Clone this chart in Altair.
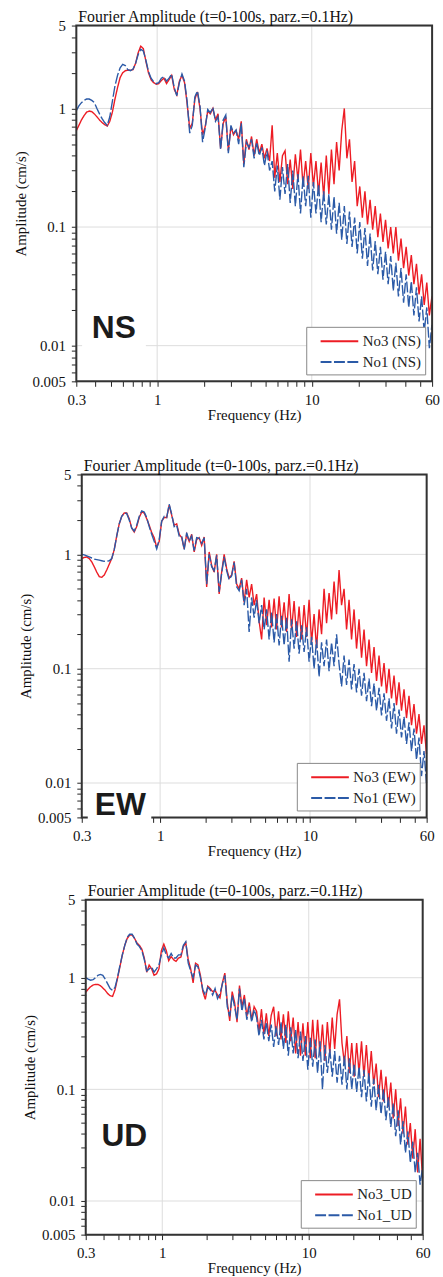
import altair as alt
import pandas as pd

# FFT frequency sampling axis (Hz), log-spaced from 0.3 to 60 Hz (1/60 decade)
FREQ = [round(0.3 * 10 ** (i / 60), 5) for i in range(139)]

# ---- NS component (amplitudes, cm/s) ----
NS_NO3 = [
    0.65, 0.72, 0.80, 0.87, 0.93, 0.95, 0.94, 0.90, 0.85, 0.80,
    0.76, 0.73, 0.71, 0.78, 0.93, 1.2, 1.5, 1.82, 2.0, 2.08,
    2.1, 2.1, 2.12, 2.4, 2.95, 3.35, 3.2, 2.5, 2.0, 1.75,
    1.65, 1.6, 1.62, 1.72, 1.8, 1.62, 1.75, 1.9, 1.45, 1.3,
    1.7, 1.9, 1.65, 1.1, 0.68, 0.75, 1.2, 1.38, 1.0, 0.6,
    0.7, 0.95, 0.9, 1.0, 0.8, 0.9, 0.46, 0.75, 0.85, 0.44,
    0.7, 0.6, 0.65, 0.55, 0.78, 0.34, 0.55, 0.45, 0.58, 0.4,
    0.55, 0.42, 0.5, 0.38, 0.46, 0.36, 0.72, 0.26, 0.42, 0.24,
    0.40, 0.44, 0.23, 0.37, 0.21, 0.41, 0.25, 0.45, 0.22, 0.36,
    0.21, 0.42, 0.22, 0.36, 0.19, 0.35, 0.18, 0.40, 0.19, 0.45,
    0.23, 0.52, 0.30, 0.65, 1.0, 0.38, 0.55, 0.24, 0.36, 0.15,
    0.22, 0.12, 0.20, 0.105, 0.17, 0.095, 0.15, 0.082, 0.13, 0.075,
    0.115, 0.066, 0.10, 0.06, 0.1, 0.052, 0.08, 0.045, 0.068, 0.039,
    0.058, 0.033, 0.049, 0.027, 0.04, 0.022, 0.034, 0.018, 0.026,
]
NS_NO1 = [
    0.96, 1.05, 1.12, 1.17, 1.2, 1.2, 1.17, 1.12, 1.0, 0.9,
    0.82, 0.76, 0.72, 0.85, 1.15, 1.55, 1.9, 2.2, 2.35, 2.3,
    2.12, 2.08, 2.15, 2.4, 2.85, 3.15, 3.05, 2.55, 2.05, 1.8,
    1.68, 1.62, 1.65, 1.8, 1.85, 1.7, 1.8, 1.95, 1.5, 1.28,
    1.65, 1.95, 1.7, 1.15, 0.62, 0.72, 1.25, 1.4, 1.05, 0.52,
    0.68, 0.98, 0.92, 1.02, 0.78, 0.85, 0.45, 0.8, 0.88, 0.42,
    0.72, 0.62, 0.66, 0.5, 0.75, 0.32, 0.52, 0.47, 0.55, 0.38,
    0.52, 0.4, 0.47, 0.33, 0.44, 0.3, 0.36, 0.2, 0.33, 0.17,
    0.32, 0.19, 0.34, 0.16, 0.3, 0.15, 0.28, 0.13, 0.27, 0.15,
    0.27, 0.12, 0.24, 0.13, 0.23, 0.11, 0.2, 0.105, 0.19, 0.095,
    0.18, 0.088, 0.16, 0.078, 0.15, 0.072, 0.135, 0.068, 0.12, 0.06,
    0.11, 0.054, 0.098, 0.047, 0.088, 0.043, 0.076, 0.04, 0.068, 0.036,
    0.062, 0.033, 0.057, 0.029, 0.05, 0.026, 0.045, 0.023, 0.04, 0.021,
    0.035, 0.018, 0.031, 0.016, 0.026, 0.013, 0.021, 0.0095, 0.015,
]

# ---- EW component ----
EW_NO3 = [
    0.92, 0.94, 0.95, 0.92, 0.86, 0.78, 0.70, 0.64, 0.63, 0.66,
    0.73, 0.82, 0.92, 1.1, 1.45, 1.85, 2.15, 2.3, 2.3, 2.05,
    1.7, 1.57, 1.75, 2.1, 2.35, 2.3, 2.05, 1.8, 1.55, 1.4,
    1.15, 1.3, 1.95, 2.1, 2.1, 2.7, 2.2, 1.8, 1.85, 1.5,
    1.4, 1.12, 1.5, 1.3, 1.5, 1.05, 1.35, 1.4, 1.2, 1.42,
    0.52, 1.05, 0.8, 0.7, 1.0, 0.45, 0.7, 1.0, 0.75, 0.62,
    0.66, 0.87, 0.55, 0.5, 0.62, 0.38, 0.6, 0.42, 0.55, 0.36,
    0.45, 0.26, 0.18, 0.42, 0.24, 0.40, 0.23, 0.41, 0.22, 0.43,
    0.23, 0.38, 0.21, 0.45, 0.22, 0.39, 0.19, 0.35, 0.18, 0.36,
    0.19, 0.40, 0.17, 0.30, 0.15, 0.33, 0.2, 0.5, 0.25, 0.46,
    0.27, 0.58, 0.3, 0.73, 0.36, 0.5, 0.22, 0.4, 0.18, 0.33,
    0.15, 0.27, 0.125, 0.22, 0.105, 0.18, 0.092, 0.155, 0.078, 0.13,
    0.07, 0.112, 0.061, 0.1, 0.055, 0.087, 0.048, 0.076, 0.043, 0.066,
    0.037, 0.058, 0.032, 0.049, 0.027, 0.04, 0.022, 0.032, 0.018,
]
EW_NO1 = [
    1.0, 0.99, 0.97, 0.95, 0.93, 0.91, 0.9, 0.89, 0.88, 0.87,
    0.87, 0.88, 0.92, 1.1, 1.45, 1.85, 2.15, 2.3, 2.28, 2.0,
    1.7, 1.6, 1.8, 2.15, 2.4, 2.35, 2.1, 1.75, 1.5, 1.3,
    1.12, 1.35, 1.95, 2.15, 2.1, 2.75, 2.25, 1.75, 1.8, 1.45,
    1.45, 1.1, 1.55, 1.3, 1.45, 1.08, 1.4, 1.38, 1.25, 1.4,
    0.55, 1.0, 0.78, 0.72, 0.98, 0.47, 0.68, 0.95, 0.72, 0.6,
    0.65, 0.85, 0.52, 0.48, 0.6, 0.36, 0.5, 0.21, 0.42, 0.28,
    0.4, 0.25, 0.36, 0.22, 0.33, 0.18, 0.31, 0.17, 0.3, 0.16,
    0.29, 0.16, 0.28, 0.115, 0.27, 0.15, 0.26, 0.135, 0.24, 0.14,
    0.23, 0.115, 0.19, 0.1, 0.18, 0.085, 0.17, 0.105, 0.18, 0.095,
    0.17, 0.105, 0.2, 0.11, 0.07, 0.13, 0.072, 0.12, 0.066, 0.11,
    0.062, 0.1, 0.058, 0.092, 0.052, 0.082, 0.047, 0.074, 0.043, 0.068,
    0.039, 0.061, 0.035, 0.055, 0.03, 0.05, 0.027, 0.044, 0.025, 0.038,
    0.022, 0.034, 0.019, 0.03, 0.016, 0.025, 0.0115, 0.019, 0.01,
]

# ---- UD component ----
UD_NO3 = [
    0.74, 0.79, 0.83, 0.86, 0.87, 0.87, 0.85, 0.81, 0.77, 0.72,
    0.69, 0.68, 0.78, 0.98, 1.25, 1.6, 1.95, 2.25, 2.4, 2.42,
    2.25, 2.05, 1.95, 1.8, 1.5, 1.12, 1.3, 1.2, 1.05, 1.08,
    1.2, 1.75, 2.0, 1.75, 1.42, 1.55, 1.45, 1.4, 1.5, 1.53,
    1.9, 2.05, 1.45, 1.2, 0.9, 1.35, 1.3, 1.05, 0.75, 0.64,
    0.84, 0.8, 0.75, 0.77, 0.7, 0.66, 0.9, 1.1, 0.6, 0.41,
    0.75, 0.6, 0.4, 0.85, 0.55, 0.7, 0.45, 0.6, 0.42, 0.55,
    0.5, 0.33, 0.52, 0.31, 0.48, 0.3, 0.46, 0.55, 0.3, 0.5,
    0.28, 0.47, 0.26, 0.5, 0.27, 0.44, 0.21, 0.4, 0.2, 0.39,
    0.2, 0.4, 0.19, 0.42, 0.19, 0.42, 0.2, 0.38, 0.18, 0.4,
    0.21, 0.44, 0.23, 0.47, 0.64, 0.26, 0.17, 0.3, 0.14, 0.26,
    0.13, 0.26, 0.14, 0.27, 0.13, 0.25, 0.12, 0.22, 0.11, 0.17,
    0.085, 0.15, 0.078, 0.13, 0.07, 0.115, 0.055, 0.1, 0.047, 0.083,
    0.04, 0.07, 0.032, 0.05, 0.024, 0.044, 0.018, 0.036, 0.016,
]
UD_NO1 = [
    1.0, 0.97, 0.95, 0.96, 1.0, 1.05, 1.07, 1.05, 0.97, 0.88,
    0.8, 0.77, 0.82, 1.0, 1.28, 1.6, 1.95, 2.3, 2.45, 2.45,
    2.25, 2.0, 1.9, 1.75, 1.45, 1.15, 1.2, 1.25, 1.12, 1.2,
    1.3, 1.6, 1.85, 1.6, 1.5, 1.65, 1.5, 1.5, 1.6, 1.6,
    1.95, 2.1, 1.35, 1.15, 1.0, 1.3, 1.25, 1.0, 0.78, 0.7,
    0.82, 0.78, 0.7, 0.8, 0.65, 0.72, 0.88, 1.05, 0.55, 0.45,
    0.7, 0.55, 0.42, 0.8, 0.5, 0.66, 0.42, 0.56, 0.4, 0.52,
    0.44, 0.3, 0.42, 0.28, 0.4, 0.27, 0.38, 0.24, 0.37, 0.25,
    0.4, 0.23, 0.38, 0.2, 0.36, 0.21, 0.34, 0.19, 0.33, 0.18,
    0.3, 0.15, 0.29, 0.16, 0.28, 0.14, 0.27, 0.1, 0.25, 0.14,
    0.23, 0.13, 0.22, 0.115, 0.2, 0.11, 0.2, 0.1, 0.19, 0.1,
    0.17, 0.095, 0.16, 0.085, 0.15, 0.078, 0.14, 0.07, 0.125, 0.065,
    0.11, 0.06, 0.1, 0.053, 0.085, 0.046, 0.075, 0.038, 0.065, 0.032,
    0.052, 0.027, 0.042, 0.022, 0.034, 0.018, 0.027, 0.014, 0.02,
]

for s in (NS_NO3, NS_NO1, EW_NO3, EW_NO1, UD_NO3, UD_NO1):
    assert len(s) == len(FREQ), len(s)

TITLE = "Fourier Amplitude (t=0-100s, parz.=0.1Hz)"
X_DOMAIN = [0.3, 60]
Y_DOMAIN = [0.005, 5]
X_TICKS = [0.3, 0.4, 0.5, 0.6, 0.7, 0.8, 0.9, 1, 2, 3, 4, 5, 6, 7, 8, 9,
           10, 20, 30, 40, 50, 60]
X_LABELS = [0.3, 1, 10, 60]
Y_TICKS = [0.005, 0.006, 0.007, 0.008, 0.009, 0.01, 0.02, 0.03, 0.04, 0.05,
           0.06, 0.07, 0.08, 0.09, 0.1, 0.2, 0.3, 0.4, 0.5, 0.6, 0.7, 0.8,
           0.9, 1, 2, 3, 4, 5]
Y_LABELS = [5, 1, 0.1, 0.01, 0.005]
X_GRID = [1, 10]
Y_GRID = [1, 0.1, 0.01]

SERIF = "Liberation Serif"
RED = "#ED1C24"
BLUE = "#2B5AA7"
FRAME = "#333333"


def X(field):
    return alt.X(
        f"{field}:Q",
        scale=alt.Scale(type="log", domain=X_DOMAIN, nice=False),
        axis=alt.Axis(
            title="Frequency (Hz)", values=X_TICKS,
            labelExpr="indexof(%s, datum.value) >= 0 ? format(datum.value, '~g') : ''" % X_LABELS,
            grid=False, domain=False, tickColor="#222", tickSize=5,
            labelFont=SERIF, labelFontSize=15, labelColor="#111",
            titleFont=SERIF, titleFontSize=15, titleFontWeight="normal",
            titleColor="#111", labelPadding=6, titlePadding=0,
            labelFlush=False, labelOverlap=False,
        ),
    )


def Y(field):
    return alt.Y(
        f"{field}:Q",
        scale=alt.Scale(type="log", domain=Y_DOMAIN, nice=False),
        axis=alt.Axis(
            title="Amplitude (cm/s)", values=Y_TICKS,
            labelExpr="indexof(%s, datum.value) >= 0 ? format(datum.value, '~g') : ''" % Y_LABELS,
            grid=False, domain=False, tickColor="#222", tickSize=5,
            labelFont=SERIF, labelFontSize=15, labelColor="#111",
            titleFont=SERIF, titleFontSize=15, titleFontWeight="normal",
            titleColor="#111", labelPadding=6, titlePadding=4,
            labelFlush=False, labelOverlap=False,
        ),
    )


def panel(no3, no1, lab3, lab1, tag, tag_pos, box, w, h):
    d3 = pd.DataFrame({"freq": FREQ, "amp": no3, "series": lab3})
    d1 = pd.DataFrame({"freq": FREQ, "amp": no1, "series": lab1})
    leg = alt.Legend(
        title=None, orient="bottom-right", offset=7,
        symbolType="M-2,0H2", symbolSize=361, symbolOffset=19,
        symbolStrokeWidth=2, labelFont=SERIF,
        labelFontSize=15, labelColor="#222", fillColor="white",
        strokeColor="#888", padding=4, rowPadding=2, labelOffset=13,
    )
    color = alt.Color("series:N", scale=alt.Scale(domain=[lab3, lab1], range=[RED, BLUE]), legend=leg)
    dash = alt.StrokeDash("series:N", scale=alt.Scale(domain=[lab3, lab1], range=[[1, 0], [11, 2.5]]), legend=leg)

    vgrid = alt.Chart(pd.DataFrame({"gx": X_GRID})).mark_rule(color="#dddddd", strokeWidth=1).encode(x=X("gx"))
    hgrid = alt.Chart(pd.DataFrame({"gy": Y_GRID})).mark_rule(color="#dddddd", strokeWidth=1).encode(y=Y("gy"))
    l3 = alt.Chart(d3).mark_line(strokeWidth=1.4).encode(x=X("freq"), y=Y("amp"), color=color, strokeDash=dash, order="freq:Q")
    l1 = alt.Chart(d1).mark_line(strokeWidth=1.4).encode(x=X("freq"), y=Y("amp"), color=color, strokeDash=dash, order="freq:Q")
    frame = alt.Chart(pd.DataFrame([{"x1": X_DOMAIN[0], "x2": X_DOMAIN[1], "y1": Y_DOMAIN[0], "y2": Y_DOMAIN[1]}])).mark_rect(
        fillOpacity=0, stroke=FRAME, strokeWidth=2
    ).encode(x=X("x1"), x2="x2:Q", y=Y("y1"), y2="y2:Q")
    bx = alt.Chart(pd.DataFrame([box])).mark_rect(color="white").encode(x=X("x1"), x2="x2:Q", y=Y("y1"), y2="y2:Q")
    tx = alt.Chart(pd.DataFrame([{"f": tag_pos[0], "a": tag_pos[1], "t": tag}])).mark_text(
        font="Liberation Sans", fontWeight="bold", fontSize=32, color="#1b1b1b", baseline="middle"
    ).encode(x=X("f"), y=Y("a"), text="t:N")
    return alt.layer(vgrid, hgrid, l3, l1, frame, bx, tx).properties(
        width=w, height=h,
        title=alt.Title(TITLE, anchor="start", frame="group", font=SERIF, fontSize=16,
                        fontWeight="normal", color="#111", offset=-6, dx=2),
    )


p1 = panel(NS_NO3, NS_NO1, "No3 (NS)", "No1 (NS)", "NS", (0.525, 0.0141),
           {"x1": 0.327, "x2": 0.845, "y1": 0.0079, "y2": 0.0227}, 359, 359)
p2 = panel(EW_NO3, EW_NO1, "No3 (EW)", "No1 (EW)", "EW", (0.543, 0.0064),
           {"x1": 0.329, "x2": 0.873, "y1": 0.0044, "y2": 0.0096}, 348, 346)
p3 = panel(UD_NO3, UD_NO1, "No3_UD", "No1_UD", "UD", (0.55, 0.0384),
           {"x1": 0.33, "x2": 0.85, "y1": 0.028, "y2": 0.052}, 340, 338)

top = alt.vconcat(p1, p2, spacing=34, center=True).resolve_scale(
    color="independent", strokeDash="independent")
chart = (
    alt.vconcat(top, p3, spacing=23, center=True)
    .resolve_scale(color="independent", strokeDash="independent")
    .properties(padding={"left": 12, "top": 2, "right": 3, "bottom": 0})
    .configure_view(stroke=None)
    .configure_title(fontSize=16, font=SERIF)
    .configure(background="white")
)

chart.save("out.html", embed_options={"renderer": "svg", "actions": False})
